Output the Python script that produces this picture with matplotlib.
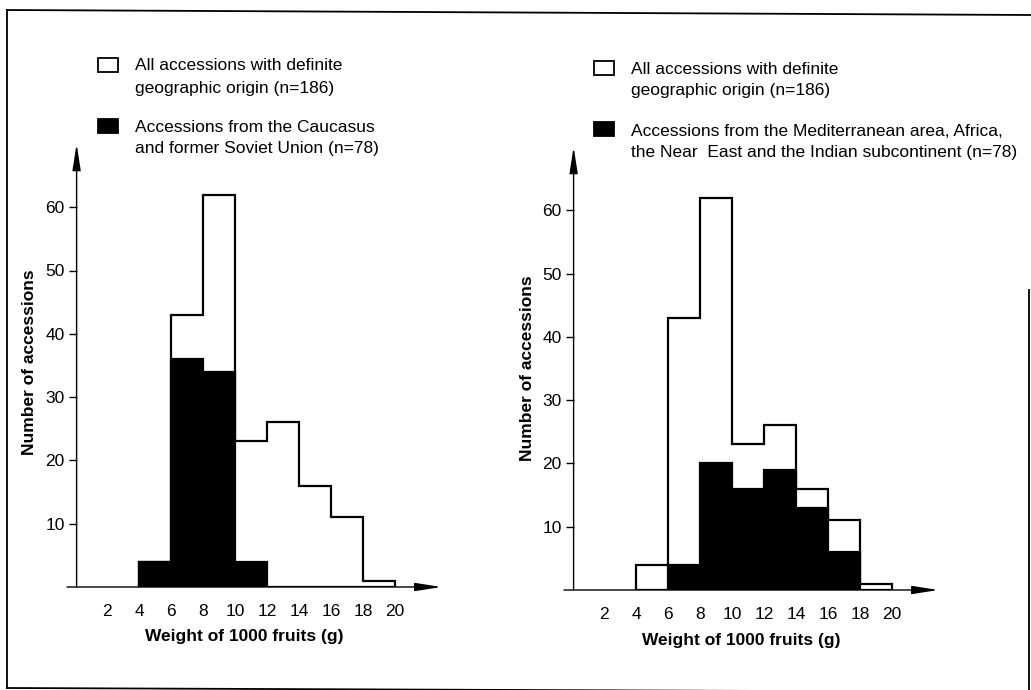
import matplotlib
matplotlib.use("Agg")
import matplotlib.pyplot as plt
from matplotlib.patches import Rectangle
from matplotlib.lines import Line2D

plt.rcParams['font.family'] = ['Liberation Sans', 'DejaVu Sans']

# ---- data ----
bin_edges = [4, 6, 8, 10, 12, 14, 16, 18, 20]
all_counts = [4, 43, 62, 23, 26, 16, 11, 1]
caucasus_counts = [4, 36, 34, 4, 0, 0, 0, 0]
mediterranean_counts = [0, 4, 20, 16, 19, 13, 6, 0]
x_ticks = [2, 4, 6, 8, 10, 12, 14, 16, 18, 20]
y_ticks = [10, 20, 30, 40, 50, 60]
legend_all = ["All accessions with definite", "geographic origin (n=186)"]
legend_left = ["Accessions from the Caucasus", "and former Soviet Union (n=78)"]
legend_right = ["Accessions from the Mediterranean area, Africa,",
                "the Near  East and the Indian subcontinent (n=78)"]
xlabel = "Weight of 1000 fruits (g)"
ylabel = "Number of accessions"

W, H = 1031, 690
fig = plt.figure(figsize=(W / 100, H / 100), dpi=100)


def fx(x):
    return x / W


def fy(y):
    return 1 - y / H


def fline(x0, y0, x1, y1, lw=1.3):
    fig.add_artist(Line2D([fx(x0), fx(x1)], [fy(y0), fy(y1)],
                          transform=fig.transFigure, color='black', lw=lw))


# outer frame (scanned page border)
fline(7, 10, 1031, 15)
fline(7, 10, 7, 688)
fline(7, 688, 1031, 692)
fline(1029, 290, 1029, 690)

XMIN, XMAX = -0.4, 23.5
YMIN, YMAX = 0, 70
PXX = 16.0   # px per x unit
PXY = 6.33   # px per y unit

ARROW = dict(arrowstyle='-|>,head_length=1.6,head_width=0.25', color='black',
             lw=1.0, mutation_scale=10, shrinkA=0, shrinkB=0)
FS_TICK = 12.5
FS_LEG = 12.5
FS_LAB = 12.5


def make_panel(x0px, y0px, black_counts, leg_black, leg_x, sq1_top, txt_x,
               line_ys, sq2_top, ylab_x, ylab_y, xlab_y):
    left = x0px + XMIN * PXX
    width = (XMAX - XMIN) * PXX
    height = (YMAX - YMIN) * PXY
    ax = fig.add_axes([fx(left), fy(y0px), width / W, height / H])
    ax.set_xlim(XMIN, XMAX)
    ax.set_ylim(YMIN, YMAX)
    for s in ax.spines.values():
        s.set_visible(False)
    ax.patch.set_alpha(0)
    # histograms
    ax.stairs(all_counts, bin_edges, fill=False, color='black', lw=1.6, baseline=0)
    ax.stairs(black_counts, bin_edges, fill=True, color='black', lw=0)
    ax.stairs(black_counts, bin_edges, fill=False, color='black', lw=1.6)
    # axes arrows
    ax.annotate('', xy=(22.9, 0), xytext=(-0.5, 0), xycoords='data',
                arrowprops=ARROW, annotation_clip=False)
    ax.annotate('', xy=(0.1, 70.0), xytext=(0.1, 0), xycoords='data',
                arrowprops=ARROW, annotation_clip=False)
    # ticks
    ax.set_xticks(x_ticks)
    ax.set_xticklabels([str(t) for t in x_ticks])
    ax.set_yticks(y_ticks)
    ax.set_yticklabels([str(t) for t in y_ticks])
    ax.spines['left'].set_position(('data', 0.1))
    ax.tick_params(axis='x', length=0, pad=12, labelsize=FS_TICK)
    ax.tick_params(axis='y', length=6, width=1, direction='out', pad=2.5, labelsize=FS_TICK)
    # labels
    fig.text(fx(ylab_x), fy(ylab_y), ylabel, rotation=90, ha='center', va='center',
             fontsize=FS_LAB, fontweight='bold')
    fig.text(fx(x0px + 10.6 * PXX), fy(xlab_y), xlabel, ha='center', va='center',
             fontsize=FS_LAB, fontweight='bold')
    # legend
    sq_w, sq_h = 20, 14
    fig.add_artist(Rectangle((fx(leg_x), fy(sq1_top + sq_h)), sq_w / W, sq_h / H,
                             transform=fig.transFigure, fill=False, ec='black', lw=1.3))
    fig.add_artist(Rectangle((fx(leg_x), fy(sq2_top + sq_h)), sq_w / W, sq_h / H,
                             transform=fig.transFigure, fill=True, fc='black',
                             ec='black', lw=1.3))
    texts = legend_all + leg_black
    for t, y in zip(texts, line_ys):
        fig.text(fx(txt_x), fy(y), t, ha='left', va='center', fontsize=FS_LEG)
    return ax


make_panel(75, 587, caucasus_counts, legend_left, 98, 58, 135,
           [66, 88, 128, 148], 119, 30, 362, 637)
make_panel(572, 590, mediterranean_counts, legend_right, 594, 61, 631,
           [70, 91, 131, 152], 122, 527, 368, 640)

fig.savefig('out.png', dpi=100)
